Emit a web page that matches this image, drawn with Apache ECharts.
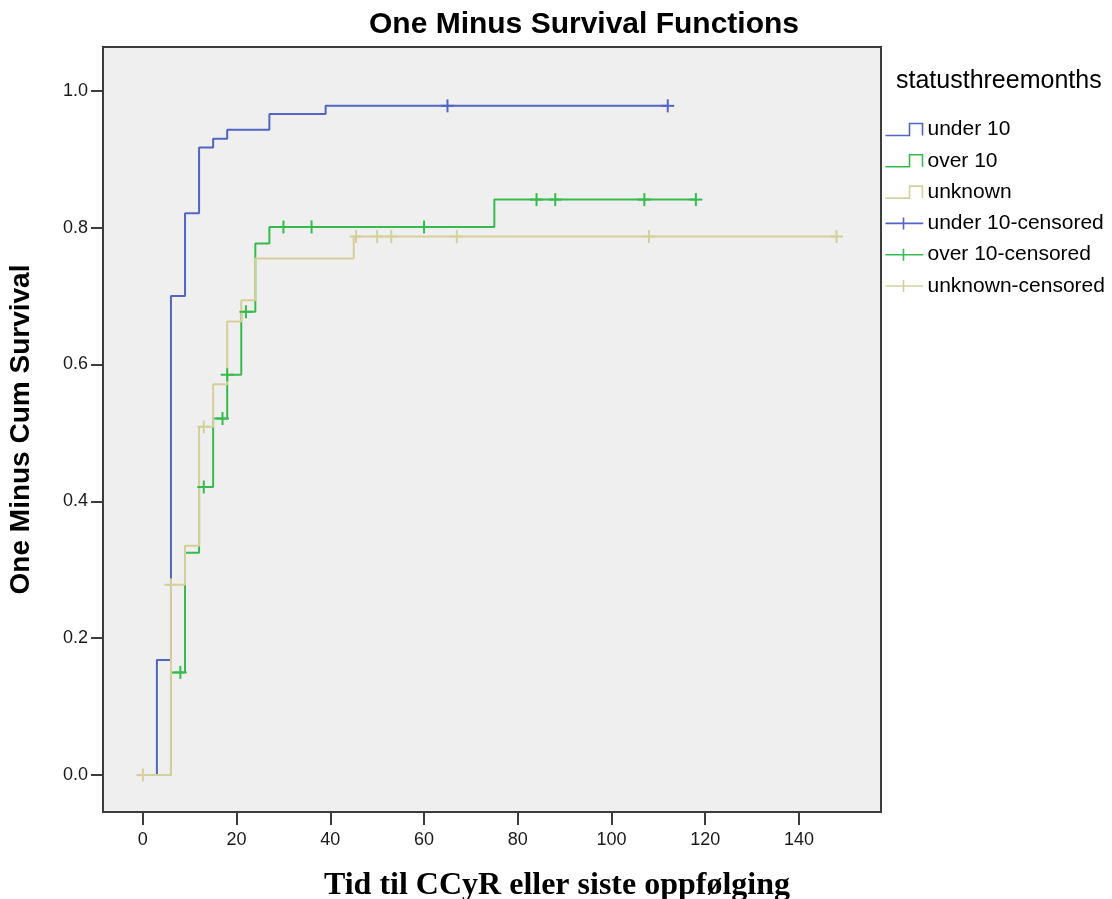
<!DOCTYPE html>
<html>
<head>
<meta charset="utf-8">
<script src="https://cdn.jsdelivr.net/npm/echarts@6/dist/echarts.min.js"></script>
<style>
  html, body { margin: 0; padding: 0; background: #ffffff; }
  #chart { width: 1112px; height: 899px; }
</style>
</head>
<body>
<div id="chart"></div>
<script>
// Step points: [time, one minus cumulative survival after that time]
const under10Steps = [[0, 0], [3, 0.168], [6, 0.700], [9, 0.821], [12, 0.917], [15, 0.930], [18, 0.943], [27, 0.966], [39, 0.978], [112, 0.978]];
const over10Steps = [[0, 0], [6, 0.150], [9, 0.325], [12, 0.421], [15, 0.521], [18, 0.585], [21, 0.677], [24, 0.777], [27, 0.801], [75, 0.841], [118, 0.841]];
const unknownSteps = [[0, 0], [6, 0.278], [9, 0.335], [12, 0.509], [15, 0.571], [18, 0.663], [21, 0.694], [24, 0.755], [45, 0.787], [148, 0.787]];

// Censored observations
const under10Censored = [[65, 0.978], [112, 0.978]];
const over10Censored = [[8, 0.150], [13, 0.421], [17, 0.521], [18, 0.585], [22, 0.677], [30, 0.801], [36, 0.801], [60, 0.801], [84, 0.841], [88, 0.841], [107, 0.841], [118, 0.841]];
const unknownCensored = [[0, 0], [6, 0.278], [13, 0.509], [45.5, 0.787], [50, 0.787], [53, 0.787], [67, 0.787], [108, 0.787], [148, 0.787]];

const groupNames = ['under 10', 'over 10', 'unknown'];
const groupColors = ['#5165c4', '#38bb4e', '#d6cf9c'];

const xTicks = [0, 20, 40, 60, 80, 100, 120, 140];
const yTicks = [0, 0.2, 0.4, 0.6, 0.8, 1.0];

const stepSets = [under10Steps, over10Steps, unknownSteps];
const censorSets = [under10Censored, over10Censored, unknownCensored];

const SANS = '"Liberation Sans", Arial, sans-serif';
const SERIF = '"Liberation Serif", "Times New Roman", serif';

const chart = echarts.init(document.getElementById('chart'));

// Draws a "+" mark at each censored observation
function crossRenderer(color) {
  return function (params, api) {
    const p = api.coord([api.value(0), api.value(1)]);
    const h = 6.5;
    const style = { stroke: color, lineWidth: 2 };
    return {
      type: 'group',
      children: [
        { type: 'line', shape: { x1: p[0] - h, y1: p[1], x2: p[0] + h, y2: p[1] }, style: style },
        { type: 'line', shape: { x1: p[0], y1: p[1] - h, x2: p[0], y2: p[1] + h }, style: style }
      ]
    };
  };
}

const series = [];
stepSets.forEach(function (pts, i) {
  series.push({
    name: groupNames[i],
    type: 'line',
    step: 'end',
    data: pts,
    showSymbol: false,
    symbol: 'none',
    lineStyle: { color: groupColors[i], width: 2 },
    itemStyle: { color: groupColors[i] },
    animation: false,
    z: 2 + i
  });
});
censorSets.forEach(function (pts, i) {
  series.push({
    name: groupNames[i] + '-censored',
    type: 'custom',
    data: pts,
    renderItem: crossRenderer(groupColors[i]),
    itemStyle: { color: groupColors[i] },
    animation: false,
    z: 5 + i
  });
});

const stepIcon = 'path://M0,12 L24,12 L24,0 L37,0 L37,12 L37,0 L24,0 L24,12 Z';
const crossIcon = 'path://M0,6 L37,6 L37,6.01 L18,6.01 L18,12 L18,0 L18,6 Z';

const legendData = [];
groupNames.forEach(function (n, i) {
  legendData.push({
    name: n,
    icon: stepIcon,
    itemStyle: { color: 'none', borderColor: groupColors[i], borderWidth: 1.6 }
  });
});
groupNames.forEach(function (n, i) {
  legendData.push({
    name: n + '-censored',
    icon: crossIcon,
    itemStyle: { color: 'none', borderColor: groupColors[i], borderWidth: 1.6 }
  });
});

chart.setOption({
  backgroundColor: '#ffffff',
  animation: false,
  title: {
    text: 'One Minus Survival Functions',
    left: 579,
    top: 5,
    textAlign: 'center',
    textStyle: { fontFamily: SANS, fontSize: 30, fontWeight: 'bold', color: '#000000' }
  },
  legend: {
    orient: 'vertical',
    left: 878,
    top: 114,
    itemWidth: 37,
    itemHeight: 12,
    itemGap: 10.3,
    selectedMode: false,
    data: legendData,
    textStyle: { fontFamily: SANS, fontSize: 21, lineHeight: 21, color: '#000000' }
  },
  graphic: [
    {
      type: 'text',
      left: 896,
      top: 69,
      style: { text: 'statusthreemonths', font: '25px "Liberation Sans", Arial, sans-serif', fill: '#000000' }
    }
  ],
  grid: {
    left: 103,
    right: 231,
    top: 47,
    bottom: 87,
    outerBoundsMode: 'none',
    containLabel: false,
    show: true,
    backgroundColor: '#efefef',
    borderColor: '#3c3c3c',
    borderWidth: 2
  },
  xAxis: {
    type: 'value',
    min: -8.5,
    max: 157.5,
    name: 'Tid til CCyR eller siste oppfølging',
    nameLocation: 'middle',
    nameGap: 58,
    nameTextStyle: { fontFamily: SERIF, fontSize: 32, fontWeight: 'bold', color: '#000000', padding: [0, 0, 0, 130] },
    splitLine: { show: false },
    axisLine: { show: true, onZero: false, lineStyle: { color: '#3c3c3c', width: 2 } },
    axisTick: { show: true, inside: false, length: 13, customValues: xTicks, lineStyle: { color: '#3c3c3c', width: 2 } },
    axisLabel: { customValues: xTicks, margin: 19, fontFamily: SANS, fontSize: 18, color: '#1a1a1a' }
  },
  yAxis: {
    type: 'value',
    min: -0.054,
    max: 1.064,
    name: 'One Minus Cum Survival',
    nameLocation: 'middle',
    nameGap: 68,
    nameRotate: 90,
    nameTextStyle: { fontFamily: SANS, fontSize: 28, fontWeight: 'bold', color: '#000000' },
    splitLine: { show: false },
    axisLine: { show: true, onZero: false, lineStyle: { color: '#3c3c3c', width: 2 } },
    axisTick: { show: true, inside: false, length: 12, customValues: yTicks, lineStyle: { color: '#3c3c3c', width: 2 } },
    axisLabel: {
      customValues: yTicks,
      margin: 15,
      fontFamily: SANS,
      fontSize: 18,
      color: '#1a1a1a',
      formatter: function (v) { return v.toFixed(1); }
    }
  },
  series: series
});
</script>
</body>
</html>
